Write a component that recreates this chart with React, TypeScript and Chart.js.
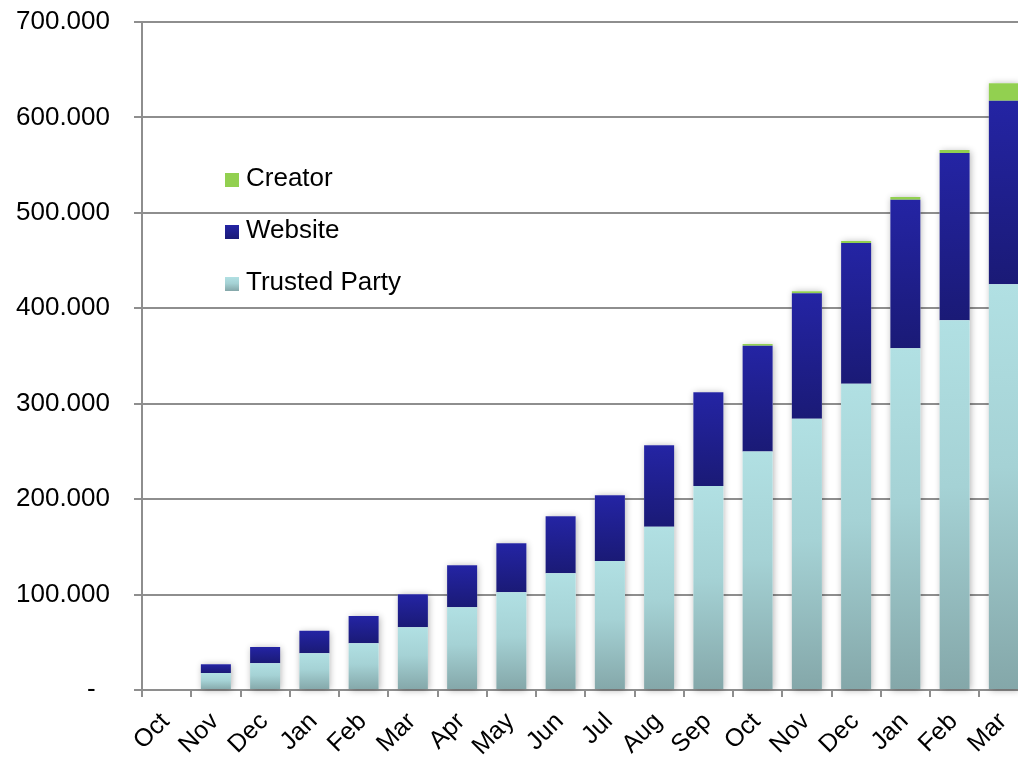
import React, { useEffect, useRef } from 'react';
import { Chart, registerables } from 'chart.js';

Chart.register(...registerables);

const months = ['Oct', 'Nov', 'Dec', 'Jan', 'Feb', 'Mar', 'Apr', 'May', 'Jun', 'Jul', 'Aug', 'Sep', 'Oct', 'Nov', 'Dec', 'Jan', 'Feb', 'Mar'];
const trustedParty = [0, 17800, 28000, 38500, 49000, 65700, 86700, 102400, 122300, 135200, 171100, 213800, 250000, 284300, 321000, 358000, 387400, 425100];
const website = [0, 9200, 17000, 23500, 28500, 34600, 44000, 51300, 59700, 68800, 85300, 98200, 110800, 131400, 147400, 155800, 175300, 192400];
const creator = [0, 0, 0, 0, 0, 0, 0, 0, 0, 0, 0, 0, 1800, 2100, 2100, 2800, 3200, 18300];
const yTicks = [0, 100000, 200000, 300000, 400000, 500000, 600000, 700000];

const FONT = "'Liberation Sans', Arial, sans-serif";
const TP_STOPS: [number, string][] = [[0, '#B1E0E3'], [0.45, '#A5D2D5'], [1, '#84A7A9']];
const WEB_STOPS: [number, string][] = [[0, '#2424A4'], [1, '#1A1A76']];
const CREATOR_COLOR = '#92D050';
const GRID = '#8E8E8E';

function fmt(v: number): string {
  if (v === 0) return '-  ';
  return Math.round(v).toString().replace(/\B(?=(\d{3})+(?!\d))/g, '.');
}

function gradientFor(stops: [number, string][]) {
  return (ctx: any) => {
    const chart = ctx.chart;
    if (!chart.chartArea || !chart.scales || !chart.scales.y) return stops[0][1];
    const i = ctx.dataIndex;
    const dsi = ctx.datasetIndex;
    const all = chart.data.datasets;
    let base = 0;
    for (let k = 0; k < dsi; k++) base += (all[k].data[i] as number) || 0;
    const top = base + ((all[dsi].data[i] as number) || 0);
    const ys = chart.scales.y;
    const y0 = ys.getPixelForValue(top);
    const y1 = ys.getPixelForValue(base);
    if (!(y1 > y0)) return stops[0][1];
    const g = chart.ctx.createLinearGradient(0, y0, 0, y1);
    stops.forEach(([o, c]) => g.addColorStop(o, c));
    return g;
  };
}

const shadowPlugin = {
  id: 'barShadow',
  beforeDatasetsDraw(chart: any) {
    const c = chart.ctx;
    const metas = chart.data.datasets.map((_: any, k: number) => chart.getDatasetMeta(k));
    const n = chart.data.labels.length;
    c.save();
    c.shadowColor = 'rgba(0,0,0,0.32)';
    c.shadowBlur = 7;
    c.shadowOffsetX = 1;
    c.shadowOffsetY = 1;
    c.fillStyle = '#ffffff';
    for (let i = 0; i < n; i++) {
      let top = Infinity, bottom = -Infinity, x = 0, w = 0, any = false;
      metas.forEach((m: any, k: number) => {
        const v = chart.data.datasets[k].data[i];
        if (!v) return;
        const el = m.data[i];
        top = Math.min(top, el.y, el.base);
        bottom = Math.max(bottom, el.y, el.base);
        x = el.x; w = el.width; any = true;
      });
      if (any) c.fillRect(x - w / 2, top, w, bottom - top);
    }
    c.restore();
  },
};

const legendPlugin = {
  id: 'insideLegend',
  afterDraw(chart: any) {
    const c = chart.ctx;
    const order = [2, 1, 0];
    c.save();
    c.font = `26px ${FONT}`;
    c.textBaseline = 'middle';
    c.textAlign = 'left';
    order.forEach((di, k) => {
      const ds = chart.data.datasets[di];
      const cy = 179 + k * 52;
      const sx = 225, sy = cy - 6, s = 14;
      if (di === 2) {
        c.fillStyle = CREATOR_COLOR;
      } else {
        const g = c.createLinearGradient(0, sy, 0, sy + s);
        (di === 1 ? WEB_STOPS : TP_STOPS).forEach(([o, col]) => g.addColorStop(o, col));
        c.fillStyle = g;
      }
      c.fillRect(sx, sy, s, s);
      c.fillStyle = '#000';
      c.fillText(ds.label, 246, cy);
    });
    c.restore();
  },
};

function zeroPad(s: any) {
  s.paddingTop = 0;
  s.paddingBottom = 0;
  s.paddingLeft = 0;
  s.paddingRight = 0;
}

export default function App() {
  const ref = useRef<HTMLCanvasElement>(null);
  useEffect(() => {
    if (!ref.current) return;
    Chart.defaults.font.family = FONT;
    Chart.defaults.color = '#000';
    const chart = new Chart(ref.current, {
      type: 'bar',
      data: {
        labels: months,
        datasets: [
          { label: 'Trusted Party', data: trustedParty, backgroundColor: gradientFor(TP_STOPS) as any, borderWidth: 0 },
          { label: 'Website', data: website, backgroundColor: gradientFor(WEB_STOPS) as any, borderWidth: 0 },
          { label: 'Creator', data: creator, backgroundColor: CREATOR_COLOR, borderWidth: 0 },
        ],
      },
      options: {
        animation: false,
        responsive: true,
        maintainAspectRatio: false,
        devicePixelRatio: 1,
        layout: { padding: { left: 0, top: 22, right: 11.5, bottom: 0 } },
        datasets: { bar: { categoryPercentage: 1, barPercentage: 0.61 } },
        plugins: { legend: { display: false }, tooltip: { enabled: false } },
        scales: {
          x: {
            stacked: true,
            grid: { drawOnChartArea: false, drawTicks: true, tickLength: 7, color: GRID, lineWidth: 2 },
            border: { display: true, color: GRID, width: 2 },
            ticks: { minRotation: 45, maxRotation: 45, autoSkip: false, padding: 10, labelOffset: -1, font: { size: 25, family: FONT }, color: '#000' },
            afterFit: (s: any) => { s.height = 67; zeroPad(s); },
          },
          y: {
            stacked: true,
            min: 0,
            max: 700000,
            afterBuildTicks: (s: any) => { s.ticks = yTicks.map((v) => ({ value: v })); },
            grid: { color: GRID, lineWidth: 2, tickLength: 8, drawTicks: true },
            border: { display: true, color: GRID, width: 2 },
            ticks: { padding: 24, font: { size: 26, family: FONT }, color: '#000', callback: (v: any) => fmt(Number(v)) },
            afterFit: (s: any) => { s.width = 142; zeroPad(s); },
          },
        },
      },
      plugins: [shadowPlugin, legendPlugin],
    });
    return () => chart.destroy();
  }, []);
  return (
    <div style={{ position: 'fixed', left: 0, top: 0, width: 1018, height: 757, overflow: 'hidden', background: '#fff' }}>
      <div style={{ position: 'relative', width: 1040, height: 757 }}>
        <canvas ref={ref} />
      </div>
    </div>
  );
}
